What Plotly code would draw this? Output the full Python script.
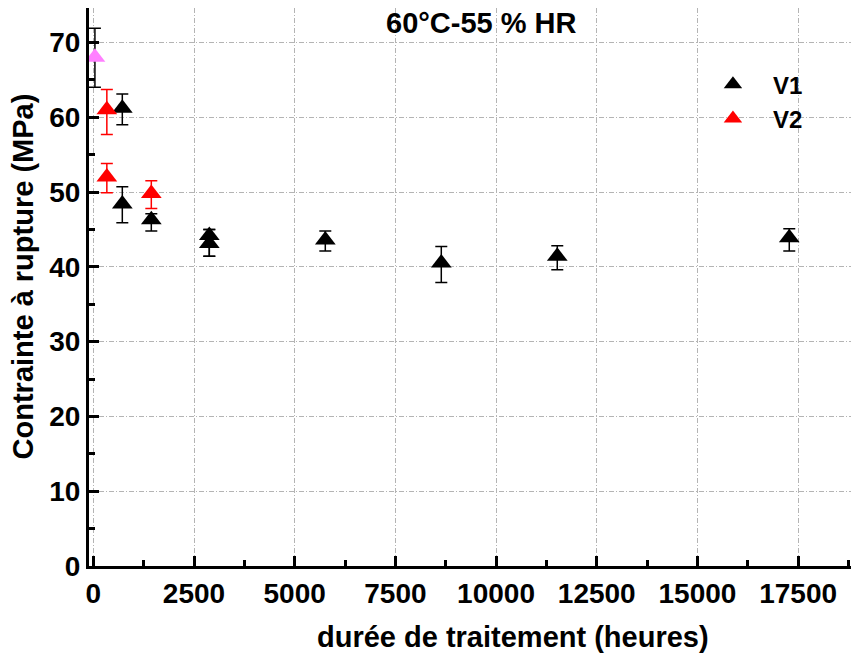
import plotly.graph_objects as go

# durée de traitement (heures) / contrainte à rupture (MPa)
t0_x = [40]
t0_y = [68.0]
t0_err_plus = [3.9]
t0_err_minus = [4.0]

v1_x = [720, 720, 1440, 2880, 2880, 5760, 8640, 11520, 17280]
v1_y = [61.2, 48.4, 46.3, 44.2, 43.1, 43.6, 40.5, 41.4, 43.9]
v1_err_plus = [1.9, 2.3, 0.8, 0.8, 1.9, 1.2, 2.2, 1.4, 1.2]
v1_err_minus = [2.2, 2.5, 1.5, 2.8, 1.7, 1.5, 2.6, 1.8, 1.8]

v2_x = [336, 336, 1440]
v2_y = [61.0, 52.0, 49.8]
v2_err_plus = [2.7, 1.8, 1.7]
v2_err_minus = [3.3, 2.1, 2.0]

FONT = "Arial, Liberation Sans, sans-serif"
NBSP = '\u00a0'
title_font = dict(family=FONT, size=29, color='black', weight='bold')

fig = go.Figure()

fig.add_trace(go.Scatter(
    x=t0_x, y=t0_y, mode='markers', showlegend=False,
    marker=dict(symbol='triangle-up', size=18, color='#ff80ff'),
    error_y=dict(type='data', symmetric=False, array=t0_err_plus, arrayminus=t0_err_minus,
                 color='black', thickness=1.5, width=6)
))
fig.add_trace(go.Scatter(
    x=v1_x, y=v1_y, mode='markers', name=NBSP * 3 + 'V1',
    marker=dict(symbol='triangle-up', size=18, color='black'),
    error_y=dict(type='data', symmetric=False, array=v1_err_plus, arrayminus=v1_err_minus,
                 color='black', thickness=1.5, width=6)
))
fig.add_trace(go.Scatter(
    x=v2_x, y=v2_y, mode='markers', name=NBSP * 3 + 'V2',
    marker=dict(symbol='triangle-up', size=18, color='#ff0000'),
    error_y=dict(type='data', symmetric=False, array=v2_err_plus, arrayminus=v2_err_minus,
                 color='#ff0000', thickness=1.5, width=6)
))

axis_common = dict(
    showline=True, linecolor='black', linewidth=3,
    ticks='inside', ticklen=10, tickwidth=3, tickcolor='black',
    showgrid=True, gridcolor='#b4b4b4', gridwidth=1, griddash='5px,2px,1px,2px',
    zeroline=False, automargin=False,
    tickfont=dict(family=FONT, size=28, color='black', weight='bold'),
)

# page body has an 8px margin, so the figure is offset; ranges compensate
fig.update_xaxes(
    range=[-107, 19210], tick0=0, dtick=2500, tickformat='d',
    minor=dict(ticks='inside', ticklen=6, tickwidth=3, tickcolor='black', dtick=1250, tick0=0, showgrid=False),
    **axis_common
)
fig.update_yaxes(
    range=[0, 74.6], tick0=0, dtick=10,
    minor=dict(ticks='inside', ticklen=6, tickwidth=3, tickcolor='black', dtick=5, tick0=0, showgrid=False),
    **axis_common
)

# axis titles as annotations (the original x title is centred on a wider, cropped axis)
fig.add_annotation(
    x=0.545, y=-0.127, xref='paper', yref='paper', xanchor='center', yanchor='middle',
    text='durée de traitement (heures)', showarrow=False, font=title_font
)
fig.add_annotation(
    x=-0.0848, y=0.519, xref='paper', yref='paper', xanchor='center', yanchor='middle',
    text='Contrainte à rupture (MPa)', textangle=-90, showarrow=False, font=title_font
)
fig.add_annotation(
    x=0.5, y=1.0, xref='paper', yref='paper', xanchor='center', yanchor='top',
    text='60°C-55 % HR', showarrow=False, yshift=3, xshift=3, font=title_font
)

fig.update_layout(
    width=859, height=660,
    margin=dict(l=81, r=0, t=0, b=102),
    paper_bgcolor='white', plot_bgcolor='white',
    showlegend=True,
    legend=dict(x=0.802, y=0.903, xanchor='left', yanchor='top',
                bgcolor='rgba(0,0,0,0)', itemsizing='trace', tracegroupgap=0,
                font=dict(family=FONT, size=24, color='black', weight='bold')),
)

fig.write_html("out.html")
